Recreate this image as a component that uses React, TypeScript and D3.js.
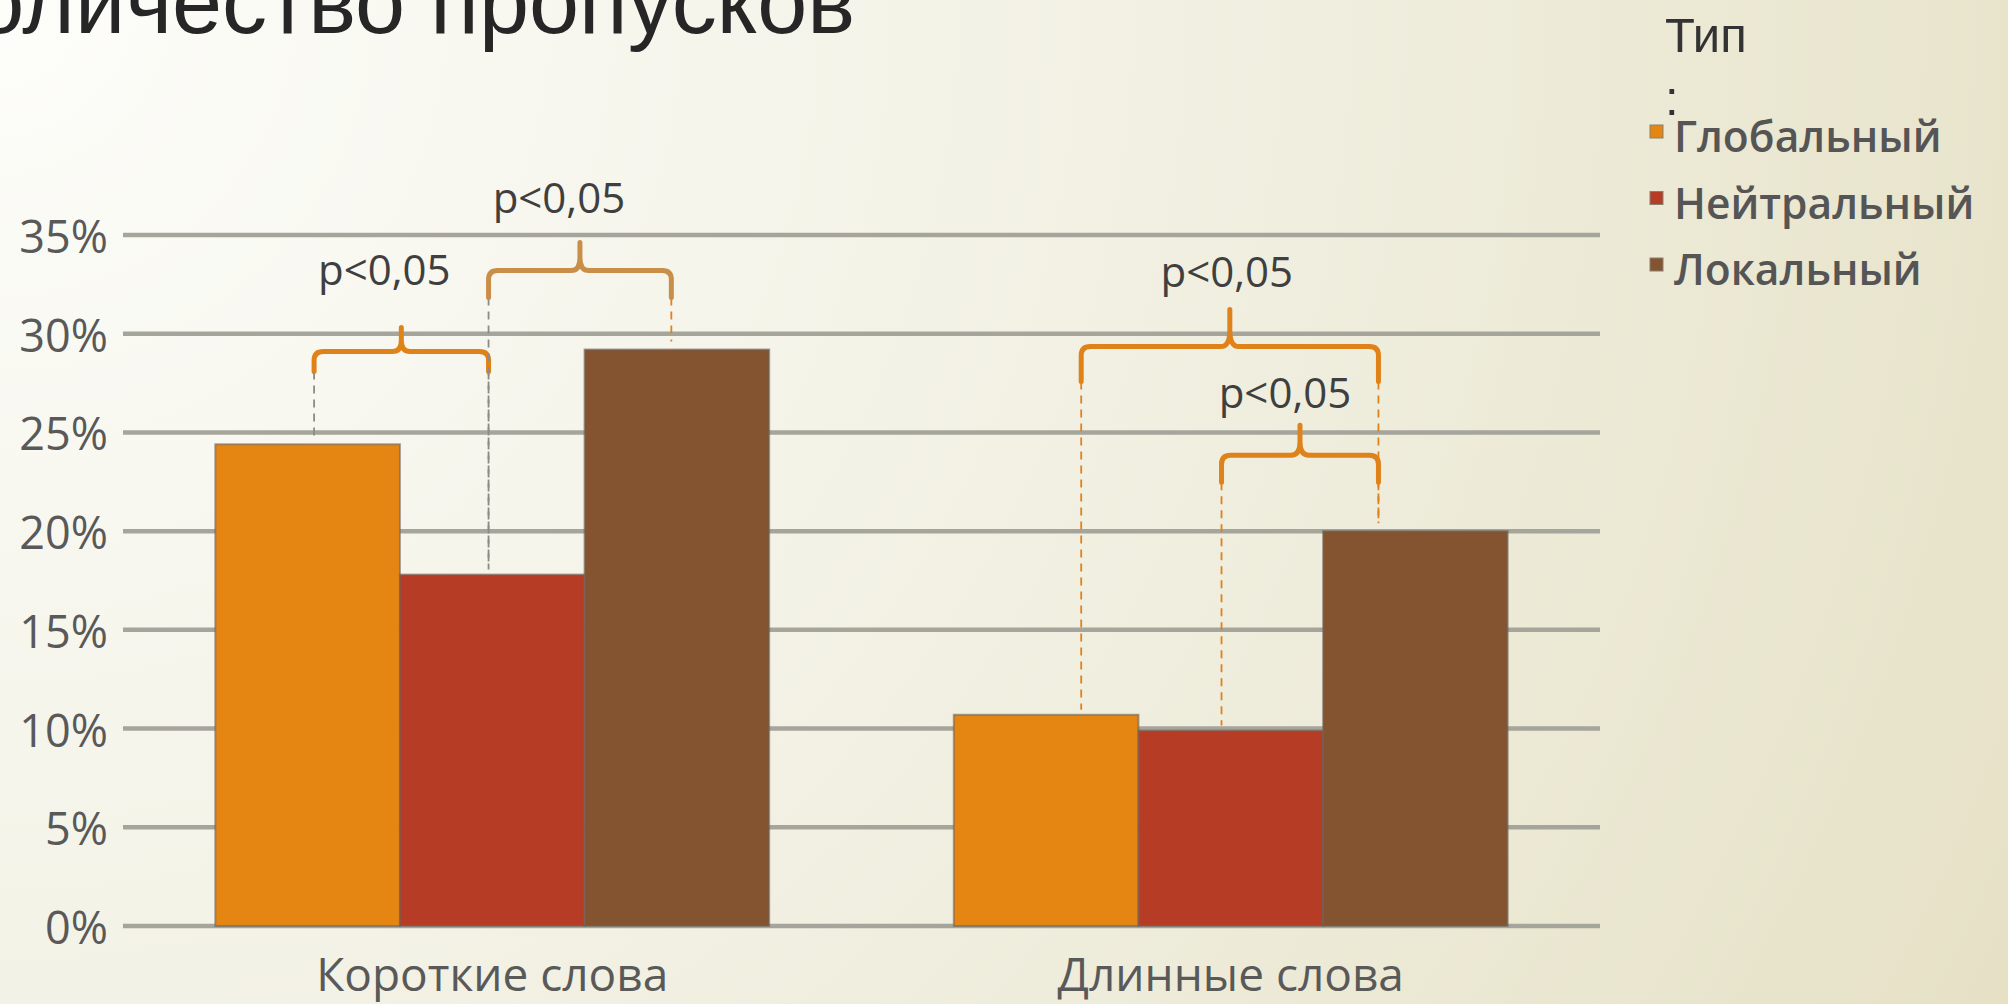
import React from 'react';
import * as d3 from 'd3';

// data
const categories = ['Короткие слова', 'Длинные слова'];
const seriesNames = ['Глобальный', 'Нейтральный', 'Локальный'];
const globalValues = [24.4, 10.7];
const neutralValues = [17.8, 9.9];
const localValues = [29.2, 20.0];
const yTicks = [0, 5, 10, 15, 20, 25, 30, 35];
const titleText = 'Количество пропусков';
const legendTitle = 'Тип';
const pText = 'p<0,05';

// significance brackets: category, series at each end, spot inside that bar, level in %
const brackets = [
  { cat: 0, from: 0, fromAt: 0.535, to: 1, toAt: 0.48, level: 29.1 },
  { cat: 0, from: 1, fromAt: 0.48, to: 2, toAt: 0.47, level: 33.2 },
  { cat: 1, from: 0, fromAt: 0.69, to: 2, toAt: 0.3, level: 29.35 },
  { cat: 1, from: 1, fromAt: 0.45, to: 2, toAt: 0.3, level: 23.85 },
];

const W = 2008;
const H = 1004;
const colors = ['#e58612', '#b63c26', '#845330'];

const bracketStyle = [
  { drop: 20, tip: 24, color: '#e0821a', dashL: '#8c8c86', dashR: '#8c8c86', lblDx: -17, lblDy: -42 },
  { drop: 27, tip: 28, color: '#c98f48', dashL: '#8c8c86', dashR: '#e0821a', lblDx: -21, lblDy: -30 },
  { drop: 35, tip: 37, color: '#e0821a', dashL: '#e0821a', dashR: '#e0821a', lblDx: -3, lblDy: -23 },
  { drop: 27, tip: 30, color: '#e0821a', dashL: '#e0821a', dashR: '#e0821a', lblDx: -15, lblDy: -17 },
];

function bracePath(x0: number, x1: number, y: number, drop: number, tip: number) {
  const xc = (x0 + x1) / 2;
  const r = 9;
  return [
    `M${x0},${y + drop}`,
    `L${x0},${y + r}`,
    `Q${x0},${y} ${x0 + r},${y}`,
    `L${xc - r},${y}`,
    `Q${xc},${y} ${xc},${y - tip * 0.45}`,
    `L${xc},${y - tip}`,
    `M${xc},${y - tip * 0.45}`,
    `Q${xc},${y} ${xc + r},${y}`,
    `L${x1 - r},${y}`,
    `Q${x1},${y} ${x1},${y + r}`,
    `L${x1},${y + drop}`,
  ].join(' ');
}

export default function App() {
  const seriesValues = [globalValues, neutralValues, localValues];

  const x0 = d3.scaleBand<string>().domain(categories).range([123, 1600]).paddingInner(0.25).paddingOuter(0.125);
  const x1 = d3.scaleBand<string>().domain(seriesNames).range([0, x0.bandwidth()]);
  const y = d3.scaleLinear().domain([0, 35]).range([926, 235]);

  const barX = (c: number, s: number) => (x0(categories[c]) ?? 0) + (x1(seriesNames[s]) ?? 0);

  const tickFont = '"Open Sans", sans-serif';

  return (
    <svg width={W} height={H} style={{ position: 'absolute', left: 0, top: 0 }}>
      <defs>
        <radialGradient id="bg" gradientUnits="userSpaceOnUse" cx={0} cy={0} r={2250}>
          <stop offset="0" stopColor="#fdfdfa" />
          <stop offset="0.45" stopColor="#f3f2e6" />
          <stop offset="0.9" stopColor="#e8e4cc" />
          <stop offset="1" stopColor="#e6e1c5" />
        </radialGradient>
      </defs>
      <rect width={W} height={H} fill="url(#bg)" />

      <text x={855} y={33} textAnchor="end" fontFamily='"Liberation Sans", Arial, sans-serif' fontSize={90} fill="#262626">
        {titleText}
      </text>

      {/* gridlines */}
      {yTicks.map(t => (
        <line key={t} x1={123} x2={1600} y1={y(t)} y2={y(t)} stroke="#a6a59c" strokeWidth={4.5} />
      ))}
      {yTicks.map(t => (
        <text key={'l' + t} x={108} y={y(t)} dy="0.4em" textAnchor="end" fontFamily={tickFont} fontSize={45} fill="#595959">
          {t}%
        </text>
      ))}

      {/* bars */}
      {seriesValues.map((vals, s) =>
        vals.map((v, c) => (
          <rect
            key={s + '-' + c}
            x={barX(c, s)}
            y={y(v)}
            width={x1.bandwidth()}
            height={y(0) - y(v)}
            fill={colors[s]}
            stroke="rgba(110,100,90,0.6)"
            strokeWidth={2}
          />
        ))
      )}

      {categories.map(c => (
        <text key={c} x={(x0(c) ?? 0) + x0.bandwidth() / 2} y={991} textAnchor="middle" fontFamily={tickFont} fontSize={46} fill="#595959">
          {c}
        </text>
      ))}

      {/* significance annotations */}
      {brackets.map((b, i) => {
        const st = bracketStyle[i];
        const bw = x1.bandwidth();
        const xa = barX(b.cat, b.from) + bw * b.fromAt;
        const xb = barX(b.cat, b.to) + bw * b.toAt;
        const yb = y(b.level);
        const topA = y(seriesValues[b.from][b.cat]);
        const topB = y(seriesValues[b.to][b.cat]);
        return (
          <g key={'b' + i}>
            <line x1={xa} x2={xa} y1={yb + st.drop} y2={topA - 5} stroke={st.dashL} strokeWidth={1.8} strokeDasharray="8,6" />
            <line x1={xb} x2={xb} y1={yb + st.drop} y2={topB - 8} stroke={st.dashR} strokeWidth={1.8} strokeDasharray="8,6" />
            <path d={bracePath(xa, xb, yb, st.drop, st.tip)} fill="none" stroke={st.color} strokeWidth={5} strokeLinecap="round" strokeLinejoin="round" />
            <text x={(xa + xb) / 2 + st.lblDx} y={yb - st.tip + st.lblDy} textAnchor="middle" fontFamily={tickFont} fontSize={42} fill="#3f3f3f">
              {pText}
            </text>
          </g>
        );
      })}

      {/* legend */}
      <text x={1665} y={52} fontFamily='"Liberation Sans", Arial, sans-serif' fontSize={49} fill="#333">
        {legendTitle}
      </text>
      <text x={1665} y={115} fontFamily='"Liberation Sans", Arial, sans-serif' fontSize={49} fill="#333">
        :
      </text>
      {seriesNames.map((n, i) => (
        <g key={n} transform={`translate(1650,${152 + i * 66.5})`}>
          <rect x={0} y={-27} width={13} height={13} fill={colors[i]} stroke="#8a8070" strokeWidth={1} />
          <text x={24} y={0} fontFamily={tickFont} fontWeight={600} fontSize={42.5} fill="#555">
            {n}
          </text>
        </g>
      ))}
    </svg>
  );
}
